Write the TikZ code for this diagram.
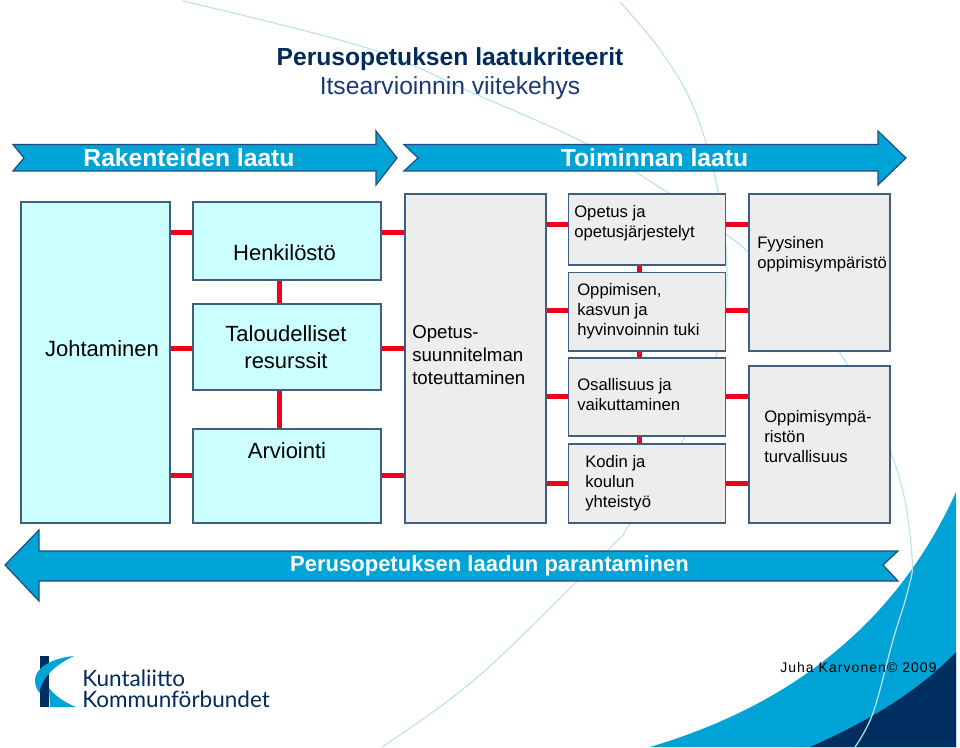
\documentclass[tikz,border=0pt]{standalone}
\usepackage{fontspec}
\setmainfont{Liberation Sans}
\newfontfamily\logofont{Lato}
\usetikzlibrary{fit}
\definecolor{navy}{HTML}{002B5C}
\definecolor{subnavy}{HTML}{1B3A73}
\definecolor{arrowfill}{HTML}{00A3D6}
\definecolor{edgeblue}{HTML}{1F4E7D}
\definecolor{boxedge}{HTML}{3F5F80}
\definecolor{cyanfill}{HTML}{CCFFFF}
\definecolor{greyfill}{HTML}{EDEDED}
\definecolor{linkred}{HTML}{F20019}
\definecolor{thinline}{HTML}{BFE3EC}
\definecolor{deepblue}{HTML}{002E60}
\tikzset{
  cyanbox/.style={draw=boxedge,fill=cyanfill,line width=0.9pt,inner sep=0pt},
  greybox/.style={draw=boxedge,fill=greyfill,line width=0.9pt,inner sep=0pt},
  banner/.style={draw=edgeblue,fill=arrowfill,line width=0.9pt,line join=miter},
  bannertext/.style={text=white,inner sep=0pt,font=\bfseries\fontsize{18.5}{22}\selectfont},
  bigtext/.style={inner sep=0pt,align=center,text=black,font=\fontsize{16.5}{20.3}\selectfont},
  midtext/.style={inner sep=0pt,anchor=west,align=left,text=black,font=\fontsize{14}{17.2}\selectfont},
  smalltext/.style={inner sep=0pt,anchor=west,align=left,text=black,font=\fontsize{12.5}{15}\selectfont},
  linkline/.style={draw=linkred,line width=3.75pt},
  bgcurve/.style={draw=thinline,line width=0.9pt},
}
\newcommand{\mkbox}[6]{\node[#1,fit={(#3,#4) (#5,#6)}] (#2) {};}
\newcommand{\hlink}[3]{\draw[linkline] (#1.east |- 0,#3) -- (#2.west |- 0,#3);}
\newcommand{\vlink}[3]{\draw[linkline] (#3,0 |- #1.south) -- (#3,0 |- #2.north);}
\begin{document}
\begin{tikzpicture}[x=0.75pt,y=-0.75pt]
\useasboundingbox (0,0) rectangle (960,748);
% corner swooshes
\fill[arrowfill] (650,747) .. controls (740,720) and (880,660) .. (956,492) -- (956,747) -- cycle;
\fill[deepblue] (810,747) .. controls (860,725) and (915,695) .. (956,652) -- (956,747) -- cycle;
% thin background curves
\draw[bgcurve] plot[smooth,tension=0.6] coordinates {(183,1) (367,48) (473,93) (585,143) (667,192) (727,235) (748,252) (810,312) (865,395) (900,480) (912,557) (908,590) (893,640) (873,713) (855,747)};
\draw[bgcurve] plot[smooth,tension=0.6] coordinates {(620,2) (647,33) (667,60) (687,93) (703,133) (718,192) (727,270) (717,353) (682,442) (628,527) (610,548) (480,675) (382,747)};
% title
\node[inner sep=0pt,text=navy,font=\bfseries\fontsize{18.5}{22}\selectfont] (title) at (450,59.5) {Perusopetuksen laatukriteerit};
\node[inner sep=0pt,text=subnavy,font=\fontsize{18.5}{22}\selectfont] (subtitle) at (450,88.5) {Itsearvioinnin viitekehys};
% banners
\draw[banner] (13,144.5) -- (24,158) -- (13,171) -- (376,171) -- (376,185) -- (397,158) -- (376,131) -- (376,144.5) -- cycle;
\draw[banner] (404,144.5) -- (418,158) -- (404,171) -- (878,171) -- (878,185) -- (906,158) -- (878,131) -- (878,144.5) -- cycle;
\draw[banner] (5,565) -- (39,530) -- (39,551) -- (898,551) -- (883,565) -- (898,581) -- (39,581) -- (39,601) -- cycle;
\node[bannertext] (rak) at (189,158) {Rakenteiden laatu};
\node[bannertext] (toi) at (654.5,158) {Toiminnan laatu};
\node[bannertext,font=\bfseries\fontsize{16.5}{20}\selectfont] (par) at (489.5,566) {Perusopetuksen laadun parantaminen};
% boxes
\mkbox{cyanbox}{joh}{21}{202}{170}{523}
\mkbox{cyanbox}{hen}{193}{202}{381}{280}
\mkbox{cyanbox}{tal}{193}{304}{381}{390}
\mkbox{cyanbox}{arv}{193}{429}{381}{523}
\mkbox{greybox}{ope}{405}{194}{546}{523}
\mkbox{greybox}{opj}{568.5}{194}{725.5}{265}
\mkbox{greybox}{opp}{568.5}{272.5}{725.5}{351}
\mkbox{greybox}{osa}{568.5}{358}{725.5}{436}
\mkbox{greybox}{kod}{568.5}{444}{725.5}{523}
\mkbox{greybox}{fyy}{749}{194}{890}{351}
\mkbox{greybox}{tur}{749}{366}{890}{523}
% links
\hlink{joh}{hen}{233}
\hlink{joh}{tal}{349}
\hlink{joh}{arv}{475}
\hlink{hen}{ope}{233}
\hlink{tal}{ope}{349}
\hlink{arv}{ope}{475}
\hlink{ope}{opj}{225}
\hlink{ope}{opp}{311}
\hlink{ope}{osa}{397}
\hlink{ope}{kod}{483}
\hlink{opj}{fyy}{225}
\hlink{opp}{fyy}{311}
\hlink{osa}{tur}{397}
\hlink{kod}{tur}{483}
\vlink{hen}{tal}{279.5}
\vlink{tal}{arv}{279.5}
\vlink{opj}{opp}{639.5}
\vlink{opp}{osa}{639.5}
\vlink{osa}{kod}{639.5}
% box texts
\node[bigtext] (tjoh) at (102,349) {Johtaminen};
\node[bigtext] (then) at (284.5,252.5) {Henkilöstö};
\node[bigtext] (ttal) at (286,347) {Taloudelliset\\resurssit};
\node[bigtext] (tarv) at (287,451) {Arviointi};
\node[midtext] (tope) at (412,355) {Opetus-\\suunnitelman\\toteuttaminen};
\node[smalltext] (topj) at (574,223) {Opetus ja\\opetusjärjestelyt};
\node[smalltext] (topp) at (577,311.5) {Oppimisen,\\kasvun ja\\hyvinvoinnin tuki};
\node[smalltext] (tosa) at (577,395) {Osallisuus ja\\vaikuttaminen};
\node[smalltext] (tkod) at (585,483.5) {Kodin ja\\koulun\\yhteistyö};
\node[smalltext] (tfyy) at (757,254) {Fyysinen\\oppimisympäristö};
\node[smalltext] (ttur) at (764,436.5) {Oppimisympä-\\ristön\\turvallisuus};
% credit
\node[inner sep=0pt,anchor=west,text=black,font=\addfontfeatures{LetterSpace=7.5}\fontsize{10.5}{12}\selectfont] (cred) at (780,667) {Juha Karvonen© 2009};
% logo
\fill[deepblue] (39.5,656) rectangle (48.5,707);
\fill[arrowfill] (74,656) .. controls (52,658) and (35,668) .. (35,680) .. controls (35,687) and (38,691) .. (39.5,693) .. controls (41,678) and (55,665) .. (74,656) -- cycle;
\fill[arrowfill] (49,688) .. controls (56,697) and (66,703) .. (76,707) -- (50,707) -- cycle;
\node[inner sep=0pt,anchor=base west,text=navy,font=\logofont\fontsize{16.9}{18}\selectfont] (lg1) at (82,686) {Kuntaliitto};
\node[inner sep=0pt,anchor=base west,text=navy,font=\logofont\fontsize{16.9}{18}\selectfont] (lg2) at (82,707) {Kommunförbundet};
\end{tikzpicture}
\end{document}
